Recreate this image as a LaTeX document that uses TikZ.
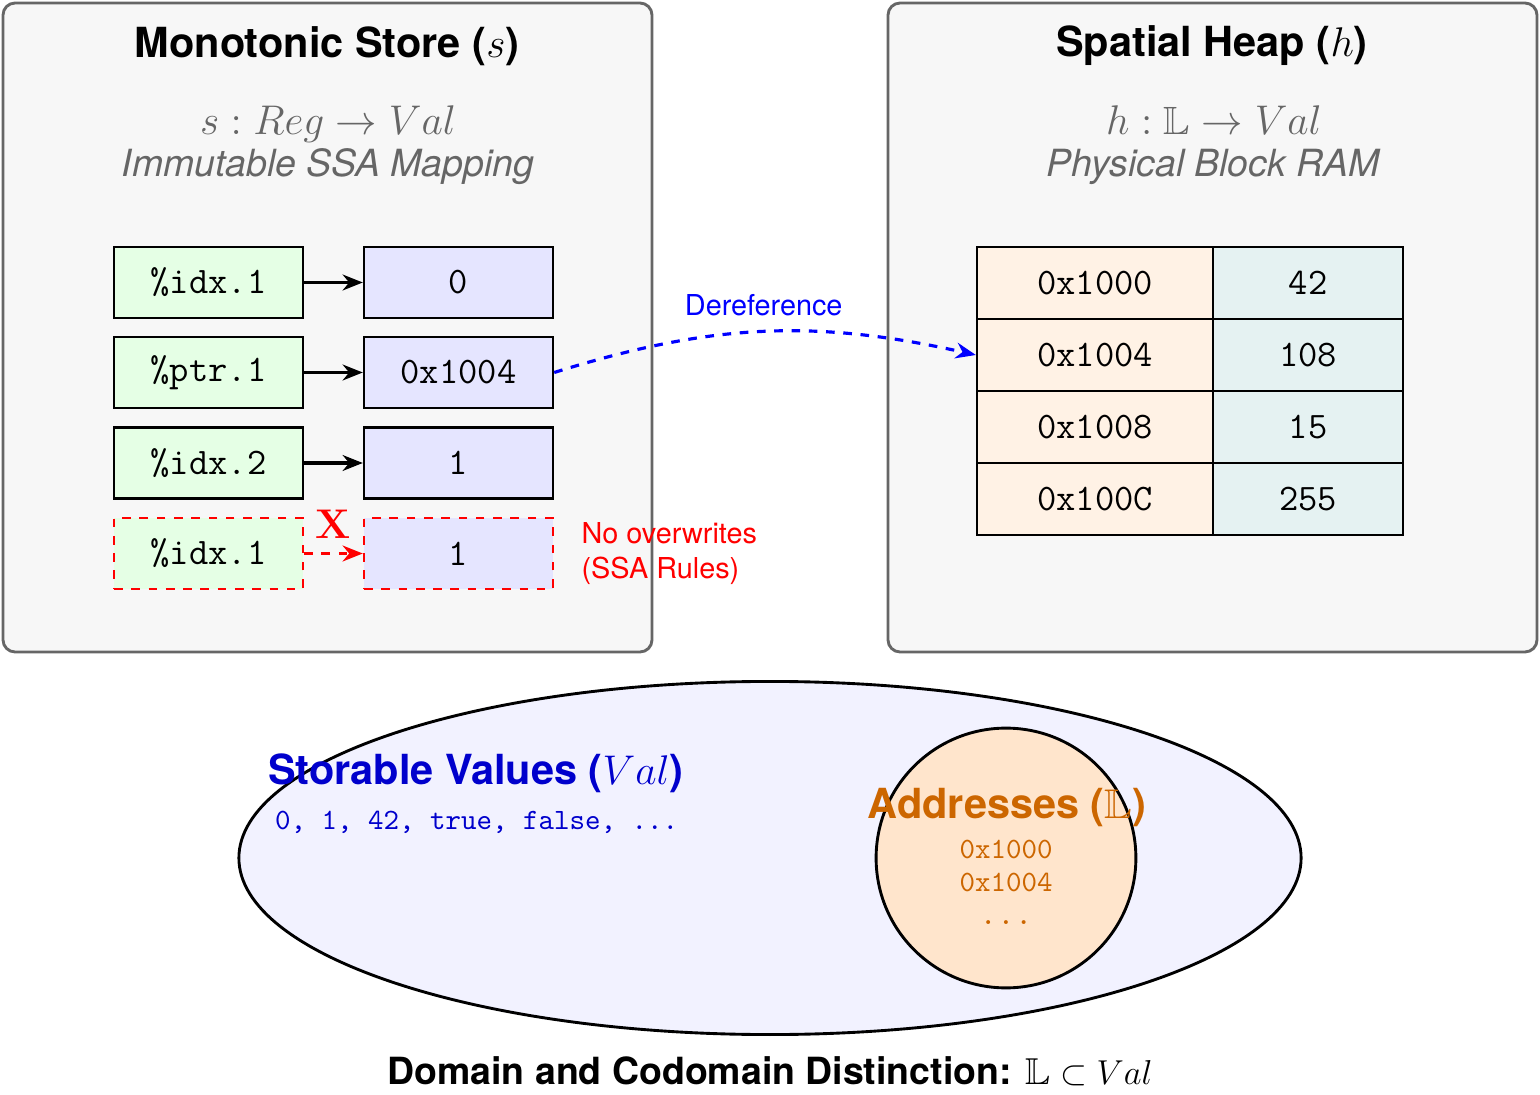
\documentclass[tikz,border=0pt]{standalone}
\usepackage{fontspec}
\setsansfont{TeX Gyre Heros}
\usepackage{amssymb}
\usepackage{xcolor}
\usetikzlibrary{positioning}
\usetikzlibrary{arrows.meta}

\definecolor{addrtext}{HTML}{CC6600}

\begin{document}
\begin{tikzpicture}[x=0.3472pt, y=-0.3472pt,
    panel/.style={draw=black!60, line width=1pt, fill=black!3, rounded corners=4.2pt},
    paneltitle/.style={font=\sffamily\bfseries\Large},
    panelsub/.style={font=\sffamily\fontsize{13}{14.5}\selectfont, text=black!60, align=center},
    reg/.style={draw, line width=0.85pt, fill=green!10, minimum width=65.6pt, minimum height=24.6pt, inner sep=0pt, font=\ttfamily\fontsize{13}{15}\selectfont},
    val/.style={reg, fill=blue!10},
    cell/.style={draw, line width=0.85pt, minimum width=81.9pt, minimum height=25pt, inner sep=0pt, font=\ttfamily\fontsize{13}{15}\selectfont},
    maps/.style={-{Stealth[length=7pt, width=5.5pt]}, line width=1.1pt}
    ]
\useasboundingbox (0,0) rectangle (1540,1095);

% the two panels
\draw[panel] (3,3) rectangle (652,652);
\draw[panel] (888,3) rectangle (1537,652);

\node[paneltitle] (storetitle) at (327,46) {Monotonic Store ($s$)};
\node[panelsub] (storesub) at (328,145) {{\fontsize{13.7}{14.5}\selectfont$s : Reg \to Val$}\\ \textit{Immutable SSA Mapping}};

\node[paneltitle] (heaptitle) at (1212,46) {Spatial Heap ($h$)};
\node[panelsub] (heapsub) at (1214,145) {{\fontsize{13.7}{14.5}\selectfont$h : \mathbb{L} \to Val$}\\ \textit{Physical Block RAM}};

% store rows
\node[reg] (k1) at (208.5,282.5) {\%idx.1};
\node[val] (v1) at (458.5,282.5) {0};
\node[reg] (k2) at (208.5,372.5) {\%ptr.1};
\node[val] (v2) at (458.5,372.5) {0x1004};
\node[reg] (k3) at (208.5,463) {\%idx.2};
\node[val] (v3) at (458.5,463) {1};
\node[reg, draw=red, dashed] (k4) at (208.5,553.5) {\%idx.1};
\node[val, draw=red, dashed] (v4) at (458.5,553.5) {1};

\draw[maps] (k1) -- (v1);
\draw[maps] (k2) -- (v2);
\draw[maps] (k3) -- (v3);
\draw[maps, red, dashed] (k4) -- node[above=4.5pt, font=\bfseries\Large, inner sep=0pt] (nope) {X} (v4);

\node[right=6pt of v4, align=left, text=red, font=\sffamily\normalsize] (ssanote) {No overwrites\\(SSA Rules)};

% heap table
\node[cell, fill=orange!10] (a1) at (1095,283) {0x1000};
\node[cell, fill=teal!10, minimum width=66pt] (c1) at (1308,283) {42};
\node[cell, fill=orange!10] (a2) at (1095,355) {0x1004};
\node[cell, fill=teal!10, minimum width=66pt] (c2) at (1308,355) {108};
\node[cell, fill=orange!10] (a3) at (1095,427) {0x1008};
\node[cell, fill=teal!10, minimum width=66pt] (c3) at (1308,427) {15};
\node[cell, fill=orange!10] (a4) at (1095,499) {0x100C};
\node[cell, fill=teal!10, minimum width=66pt] (c4) at (1308,499) {255};

\draw[-{Stealth[length=7pt, width=5.5pt]}, blue, dashed, line width=1.1pt] (v2.east) to[bend left=15]
    node[above, pos=0.5, yshift=1.5pt, font=\sffamily\normalsize] (dereflabel) {Dereference} (a2.west);

% value sets
\draw[fill=blue!5, line width=1pt] (770,858) ellipse [x radius=184.4pt, y radius=61.3pt];
\draw[fill=orange!20, line width=1pt] (1006,858) circle [radius=45.1pt];

\node[anchor=west, font=\sffamily\bfseries\Large, text=blue!80!black] (valtitle) at (258,773) {Storable Values ($Val$)};
\node[anchor=west, font=\ttfamily\fontsize{10.25}{12}\selectfont, text=blue!80!black] (valitems) at (265,822) {0, 1, 42, true, false, ...};

\node[font=\sffamily\bfseries\Large, text=addrtext] (addrtitle) at (1007,808) {Addresses ($\mathbb{L}$)};
\node[font=\ttfamily\fontsize{10.25}{11.5}\selectfont, text=addrtext, align=center] (addritems) at (1006,882) {0x1000\\0x1004\\{\fontsize{12}{12}\selectfont ...}};

\node[font=\sffamily\bfseries\fontsize{13}{15}\selectfont] (caption) at (770,1071) {Domain and Codomain Distinction: $\mathbb{L} \subset Val$};

\end{tikzpicture}
\end{document}
